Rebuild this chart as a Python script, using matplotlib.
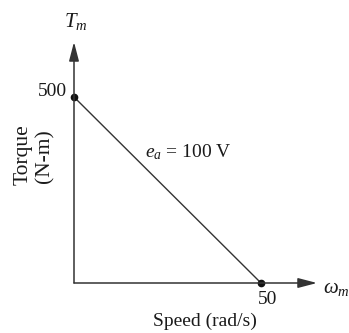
import matplotlib
matplotlib.use("Agg")
import matplotlib.pyplot as plt

speed = [0, 50]          # rad/s
torque = [500, 0]        # N-m
x_ticks = ["50"]
y_ticks = ["500"]
line_label = r"$e_a$ = 100 V"

plt.rcParams['font.family'] = ['Liberation Serif', 'DejaVu Serif']
plt.rcParams['mathtext.fontset'] = 'custom'
plt.rcParams['mathtext.rm'] = 'Liberation Serif'
plt.rcParams['mathtext.it'] = 'Liberation Serif:italic'

W, H = 349, 333
fig = plt.figure(figsize=(W/100, H/100), dpi=100)
ax = fig.add_axes([0, 0, 1, 1])
ax.axis('off')

# pixel mapping: x=0 -> 74px, x=50 -> 261px ; y=0 -> 283px, y=500 -> 97px (from top)
sx = (261 - 74) / 50.0
sy = (283 - 97) / 500.0
ax.set_xlim(-74 / sx, (W - 74) / sx)
ax.set_ylim(-(H - 283) / sy, 283 / sy)

col = '#333333'
tcol = '#1a1a1a'
arrow = dict(arrowstyle='-|>,head_length=1.15,head_width=0.3', color=col, lw=1.1,
             shrinkA=0, shrinkB=0)
ax.annotate('', xy=(0, (283 - 42) / sy), xytext=(0, 0), arrowprops=arrow)
ax.annotate('', xy=((317 - 74) / sx, 0), xytext=(0, 0), arrowprops=arrow)

ax.plot(speed, torque, color=col, lw=1.0, solid_capstyle='round')
ax.plot(speed, torque, 'o', color='#111111', ms=4.5)

fs = 14
ax.text(0.5, (283 - 22) / sy, r"$T_m$", ha='center', va='center', fontsize=fs + 1, color=tcol)
ax.text((323 - 74) / sx, (283 - 288) / sy, r"$\omega_m$", ha='left', va='center', fontsize=fs + 1, color=tcol)
ax.text((67 - 74) / sx, (283 - 91) / sy, y_ticks[0], ha='right', va='center', fontsize=fs, color=tcol)
ax.text(speed[1] + (268 - 261) / sx, (283 - 299) / sy, x_ticks[0], ha='center', va='center', fontsize=fs, color=tcol)
ax.text((205 - 74) / sx, (283 - 321) / sy, "Speed (rad/s)", ha='center', va='center', fontsize=fs, color=tcol)
ax.text((23 - 74) / sx, (283 - 155) / sy, "Torque", rotation=90, ha='center', va='center', fontsize=fs + 1.5, color=tcol)
ax.text((45 - 74) / sx, (283 - 156) / sy, "(N-m)", rotation=90, ha='center', va='center', fontsize=fs + 1.5, color=tcol)
ax.text((145 - 74) / sx, (283 - 152) / sy, line_label, ha='left', va='center', fontsize=fs, color=tcol)

fig.savefig('out.png', dpi=100)
